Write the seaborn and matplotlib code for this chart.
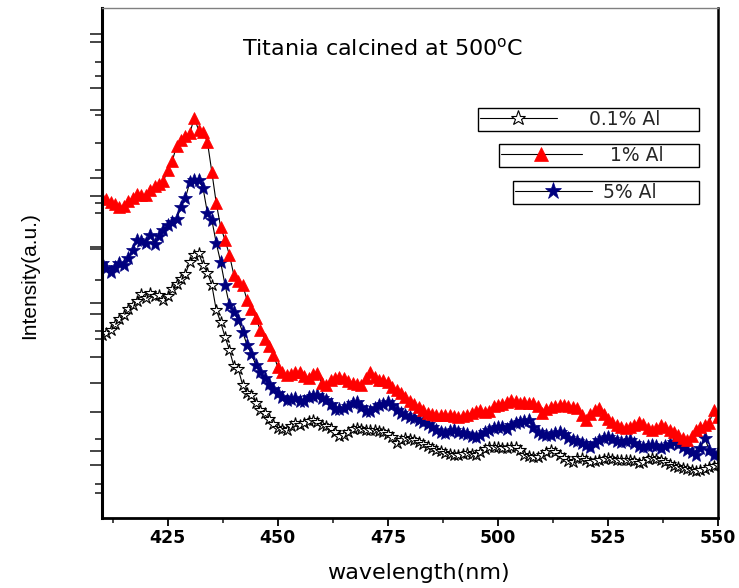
import matplotlib
matplotlib.use("Agg")
import matplotlib.pyplot as plt
import pandas as pd
import seaborn as sns
from matplotlib.lines import Line2D

# Photoluminescence spectra of Al-doped titania (calcined at 500 °C)
wavelength = list(range(410, 551))

al_01 = [
    183, 185, 188, 194, 199, 203, 209, 213, 217, 224,
    220, 225, 222, 223, 218, 222, 229, 234, 239, 244,
    256, 263, 265, 253, 245, 233, 208, 196, 181, 168,
    152, 149, 133, 125, 123, 115, 108, 105, 99, 94,
    90, 89, 88, 92, 95, 93, 95, 97, 98, 96,
    93, 92, 90, 86, 82, 83, 86, 89, 90, 89,
    88, 88, 88, 87, 86, 84, 81, 75, 78, 80,
    79, 78, 76, 74, 72, 70, 68, 67, 65, 64,
    63, 63, 64, 65, 64, 63, 66, 69, 71, 71,
    71, 70, 70, 71, 71, 68, 63, 62, 61, 61,
    63, 66, 68, 66, 63, 60, 57, 56, 60, 60,
    58, 56, 57, 58, 59, 60, 59, 58, 58, 58,
    58, 57, 55, 56, 59, 60, 59, 58, 56, 54,
    52, 51, 50, 49, 48, 47, 48, 49, 51, 52,
    53,
]

al_1 = [
    320, 319, 316, 314, 311, 312, 317, 320, 324, 323,
    323, 328, 332, 334, 337, 348, 357, 372, 378, 382,
    385, 400, 388, 386, 376, 346, 315, 291, 278, 263,
    243, 237, 233, 218, 209, 200, 188, 179, 172, 163,
    151, 146, 143, 144, 146, 146, 142, 140, 144, 145,
    135, 133, 138, 140, 141, 140, 137, 135, 134, 133,
    140, 146, 141, 138, 138, 136, 131, 128, 125, 121,
    117, 114, 111, 108, 105, 104, 103, 103, 103, 103,
    102, 101, 102, 103, 105, 107, 108, 106, 107, 112,
    113, 114, 116, 118, 117, 115, 116, 115, 115, 112,
    105, 109, 111, 112, 113, 113, 112, 111, 110, 103,
    98, 104, 108, 110, 104, 99, 96, 93, 91, 90,
    91, 93, 96, 94, 90, 88, 90, 93, 91, 88,
    86, 83, 80, 78, 82, 88, 91, 93, 95, 108,
    101,
]

al_5 = [
    255, 250, 246, 251, 255, 253, 260, 268, 278, 277,
    275, 283, 274, 282, 288, 293, 296, 299, 311, 320,
    336, 338, 338, 330, 305, 298, 275, 256, 233, 213,
    206, 198, 186, 173, 164, 153, 146, 140, 134, 129,
    125, 121, 118, 119, 120, 117, 117, 121, 122, 123,
    120, 118, 114, 109, 109, 110, 112, 115, 116, 111,
    107, 107, 110, 113, 114, 116, 113, 108, 105, 103,
    101, 100, 98, 96, 94, 91, 88, 86, 85, 87,
    88, 86, 85, 84, 82, 81, 83, 86, 88, 90,
    91, 91, 89, 93, 95, 96, 97, 98, 91, 86,
    84, 83, 83, 85, 86, 84, 80, 78, 77, 75,
    73, 71, 75, 78, 80, 81, 79, 77, 76, 77,
    78, 75, 72, 71, 72, 73, 72, 70, 72, 74,
    76, 74, 71, 68, 66, 63, 70, 80, 68, 63,
    65,
]

series_labels = ["0.1% Al", "1% Al", "5% Al"]
x_major = [425, 450, 475, 500, 525, 550]
x_minor = [412.5, 437.5, 462.5, 487.5, 512.5, 537.5]
y_major = [484, 476, 430, 408, 340, 322, 271, 269, 215, 204, 161, 135, 106, 67, 53]
y_minor = [456, 442, 403, 375, 348, 315, 305, 238, 187, 179, 79, 34, 25]

df = pd.DataFrame({
    "wavelength": wavelength,
    "0.1% Al": al_01,
    "1% Al": al_1,
    "5% Al": al_5,
})

sns.set_theme(style="ticks")
plt.rcParams["font.family"] = ["DejaVu Sans"]
plt.rcParams["mathtext.fontset"] = "dejavusans"

W, H = 739, 588
fig = plt.figure(figsize=(W / 100, H / 100), dpi=100)
ax = fig.add_axes([101.8 / W, 1 - 518 / H, (718 - 101.8) / W, (518 - 8) / H])

styles = {
    "0.1% Al": dict(marker="*", markerfacecolor="white", markeredgecolor="black",
                    markersize=9, markeredgewidth=0.8),
    "1% Al": dict(marker="^", markerfacecolor="#ff0000", markeredgecolor="#ff0000",
                  markersize=8.5, markeredgewidth=0.5),
    "5% Al": dict(marker="*", markerfacecolor="#00007f", markeredgecolor="#00007f",
                  markersize=10, markeredgewidth=0.5),
}

for name in ["0.1% Al", "5% Al", "1% Al"]:
    sns.lineplot(data=df, x="wavelength", y=name, color="black", linewidth=0.8,
                 estimator=None, ax=ax, **styles[name])

ax.set_xlim(410, 550)
ax.set_ylim(0, 510)
ax.set_xticks(x_major)
ax.set_xticks(x_minor, minor=True)
ax.set_yticks(y_major)
ax.set_yticks(y_minor, minor=True)
ax.tick_params(axis="x", which="major", direction="out", length=6, width=1.3,
               labelsize=12.5, pad=2, colors="black")
ax.tick_params(axis="x", which="minor", direction="out", length=3.5, width=1.2)
ax.tick_params(axis="y", which="major", direction="out", length=9, width=1.2,
               labelleft=False)
ax.tick_params(axis="y", which="minor", direction="out", length=5, width=1.2)
for lbl in ax.get_xticklabels():
    lbl.set_fontweight("bold")

for side in ["left", "bottom", "right"]:
    ax.spines[side].set_color("black")
ax.spines["left"].set_linewidth(2.2)
ax.spines["bottom"].set_linewidth(2.0)
ax.spines["right"].set_linewidth(1.8)
ax.spines["top"].set_linewidth(1.0)
ax.spines["top"].set_color("#808080")

ax.set_xlabel("wavelength(nm)", fontsize=16, color="black")
ax.xaxis.set_label_coords(0.513, -0.088)
ax.set_ylabel("Intensity(a.u.)", fontsize=15, color="black",
              family=["Liberation Sans Narrow", "Liberation Sans"])
ax.yaxis.set_label_coords(-0.102, 0.4745)

fig.text(383 / W, 1 - 48 / H, r"Titania calcined at 500$^{\mathrm{o}}$C",
         ha="center", va="center", fontsize=16, color="black")

# one framed legend box per sample
boxes = {
    "0.1% Al": dict(left=478, top=108, hl=4.1, tp=1.7),
    "1% Al": dict(left=499, top=144, hl=4.3, tp=1.5),
    "5% Al": dict(left=513, top=181, hl=4.1, tp=0.6),
}
right = 699
for name in series_labels:
    b = boxes[name]
    handle = Line2D([], [], color="black", linewidth=0.8, **styles[name])
    leg = fig.legend([handle], [name], loc="upper left",
                     bbox_to_anchor=(b["left"] / W, 1 - (b["top"] + 24) / H,
                                     (right - b["left"]) / W, 24 / H),
                     bbox_transform=fig.transFigure, mode="expand",
                     borderaxespad=0, borderpad=0.1, numpoints=1,
                     handlelength=b["hl"], handletextpad=b["tp"],
                     markerscale=1.25, fontsize=13.5, fancybox=False,
                     framealpha=1, edgecolor="black")
    leg.get_frame().set_linewidth(1.0)

fig.savefig("out.png", dpi=100)
